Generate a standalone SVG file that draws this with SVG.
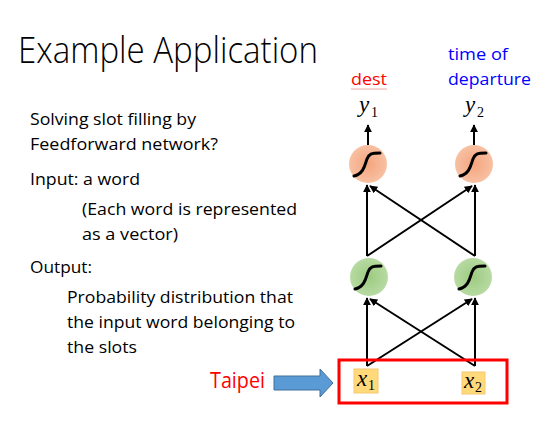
<svg xmlns="http://www.w3.org/2000/svg" width="554" height="423" viewBox="0 0 554 423">
<defs>
<style>
.t{font-family:"Open Sans","Liberation Sans",sans-serif;font-size:17px;fill:#000}
.title{font-family:"Open Sans","Liberation Sans",sans-serif;font-weight:300;font-size:36px;fill:#000}
.var{font-family:"Liberation Serif","DejaVu Serif",serif;font-style:italic;font-size:23px;fill:#000}
.sub{font-family:"Liberation Serif","DejaVu Serif",serif;font-size:14px;fill:#000}
.edge{stroke:#000;stroke-width:2;fill:none;marker-end:url(#ah)}
.sig{stroke:#000;stroke-width:3;fill:none;stroke-linecap:round}
.xbox{fill:#FFD97A;stroke:#F7C873;stroke-width:1}
</style>
<marker id="ah" viewBox="0 0 10 10" refX="9" refY="5" markerWidth="4" markerHeight="4" orient="auto" markerUnits="strokeWidth">
<path d="M0,0 L10,5 L0,10 z" fill="#000"/>
</marker>
<radialGradient id="og" cx="0.5" cy="0.5" r="0.55">
<stop offset="0" stop-color="#F4A57E"/>
<stop offset="1" stop-color="#F8C3A6"/>
</radialGradient>
<radialGradient id="gg" cx="0.5" cy="0.5" r="0.55">
<stop offset="0" stop-color="#9CCB80"/>
<stop offset="1" stop-color="#BADCA6"/>
</radialGradient>
</defs>
<rect width="554" height="423" fill="#fff"/>
<text class="title" x="18" y="63" textLength="300" lengthAdjust="spacingAndGlyphs">Example Application</text>
<g id="text">
<text class="t" x="30" y="125" textLength="166" lengthAdjust="spacingAndGlyphs">Solving slot filling by</text>
<text class="t" x="30" y="150" textLength="188" lengthAdjust="spacingAndGlyphs">Feedforward network?</text>
<text class="t" x="30" y="185" textLength="110" lengthAdjust="spacingAndGlyphs">Input: a word</text>
<text class="t" x="82" y="215" textLength="215" lengthAdjust="spacingAndGlyphs">(Each word is represented</text>
<text class="t" x="82" y="240" textLength="96" lengthAdjust="spacingAndGlyphs">as a vector)</text>
<text class="t" x="30" y="273" textLength="62" lengthAdjust="spacingAndGlyphs">Output:</text>
<text class="t" x="67" y="303" textLength="226" lengthAdjust="spacingAndGlyphs">Probability distribution that</text>
<text class="t" x="67" y="328" textLength="228" lengthAdjust="spacingAndGlyphs">the input word belonging to</text>
<text class="t" x="67" y="353" textLength="70" lengthAdjust="spacingAndGlyphs">the slots</text>
</g>
<g id="label-dest">
<text class="t" x="369" y="85" text-anchor="middle" style="fill:#FF0000" textLength="36" lengthAdjust="spacingAndGlyphs">dest</text>
<line x1="351" y1="89" x2="387" y2="89" stroke="#F4A6A6" stroke-width="1"/>
</g>
<g id="label-time">
<text class="t" x="448" y="60" style="fill:#0000FF" textLength="60" lengthAdjust="spacingAndGlyphs">time of</text>
<text class="t" x="448" y="85" style="fill:#0000FF" textLength="83" lengthAdjust="spacingAndGlyphs">departure</text>
</g>
<g id="y1"><text class="var" x="359" y="112">y</text><text class="sub" x="371" y="117">1</text></g>
<g id="y2"><text class="var" x="465" y="112">y</text><text class="sub" x="477" y="117">2</text></g>
<g id="connectors">
<line class="edge" x1="368" y1="145" x2="368" y2="125"/>
<line class="edge" x1="474" y1="145" x2="474" y2="125"/>
<line class="edge" x1="367" y1="256" x2="367" y2="185"/>
<line class="edge" x1="475" y1="256" x2="475" y2="185"/>
<line class="edge" x1="367" y1="256" x2="472" y2="186"/>
<line class="edge" x1="475" y1="256" x2="370" y2="186"/>
<line class="edge" x1="367" y1="366" x2="367" y2="298"/>
<line class="edge" x1="475" y1="366" x2="475" y2="298"/>
<line class="edge" x1="367" y1="366" x2="472" y2="299"/>
<line class="edge" x1="475" y1="366" x2="370" y2="299"/>
</g>
<g id="o1"><circle cx="368" cy="164" r="19" fill="url(#og)"/><path class="sig" d="M354,176 C364,174 365,164 367,159 C369,154 371,153 380,153"/></g>
<g id="o2"><circle cx="474" cy="164" r="19" fill="url(#og)"/><path class="sig" d="M460,176 C470,174 471,164 473,159 C475,154 477,153 486,153"/></g>
<g id="h1"><circle cx="369" cy="277" r="19" fill="url(#gg)"/><path class="sig" d="M355,289 C365,287 366,277 368,272 C370,267 372,266 381,266"/></g>
<g id="h2"><circle cx="473" cy="277" r="19" fill="url(#gg)"/><path class="sig" d="M459,289 C469,287 470,277 472,272 C474,267 476,266 485,266"/></g>
<g id="input">
<rect x="339" y="360" width="168" height="43" fill="none" stroke="#FF0000" stroke-width="3"/>
<rect class="xbox" x="354" y="369" width="24" height="24"/>
<text class="var" x="357" y="386">x</text><text class="sub" x="368" y="390">1</text>
<rect class="xbox" x="462" y="372" width="23" height="22"/>
<text class="var" x="464" y="388">x</text><text class="sub" x="475" y="392">2</text>
</g>
<g id="taipei">
<text class="t" x="210" y="388" style="fill:#FF0000;font-size:21px" textLength="55" lengthAdjust="spacingAndGlyphs">Taipei</text>
<path d="M274,376 L320,376 L320,369 L333,383 L320,397 L320,390 L274,390 z" fill="#5B9BD5" stroke="#41719C" stroke-width="1"/>
</g>
</svg>
